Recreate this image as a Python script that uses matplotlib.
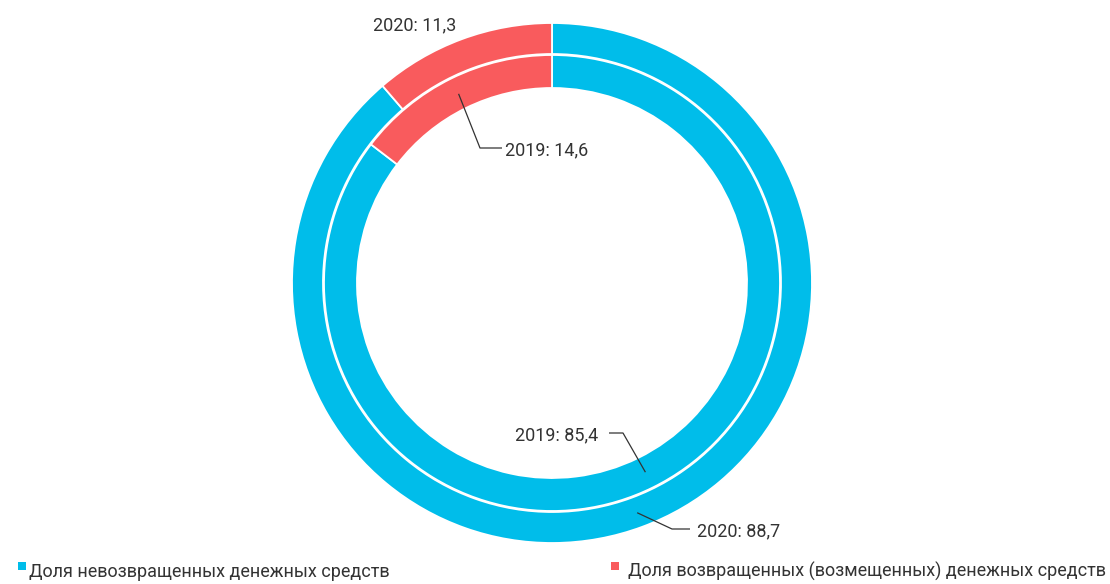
import numpy as np
import matplotlib.pyplot as plt

plt.rcParams['font.family'] = ['Roboto', 'DejaVu Sans']

years = ['2019', '2020']
unreturned = [85.4, 88.7]   # доля невозвращенных, %
returned = [14.6, 11.3]     # доля возвращенных (возмещенных), %
legend_labels = ['Доля невозвращенных денежных средств',
                 'Доля возвращенных (возмещенных) денежных средств']

BLUE = '#00BDEA'
RED = '#F95B5D'
TEXT = '#333333'
H = 584  # figure height in px, used to flip y

fig = plt.figure(figsize=(11.1, 5.84), dpi=100)
ax = fig.add_axes([0, 0, 1, 1])
cx, cy = 552, H - 283

wp = dict(edgecolor='white', linewidth=1.3)

# outer ring - 2020, inner ring - 2019
outer, _ = ax.pie([unreturned[1], returned[1]], radius=260, center=(cx, cy),
                  startangle=90, counterclock=False, colors=[BLUE, RED],
                  wedgeprops=dict(width=31, **wp))
inner, _ = ax.pie([unreturned[0], returned[0]], radius=228, center=(cx, cy),
                  startangle=90, counterclock=False, colors=[BLUE, RED],
                  wedgeprops=dict(width=33, **wp))

ax.set_xlim(0, 1110)
ax.set_ylim(0, H)
ax.axis('off')


def mid_point(w, r):
    a = np.deg2rad((w.theta1 + w.theta2) / 2)
    return cx + r * np.cos(a), cy + r * np.sin(a)


def leader(w, r, elbow, end):
    x0, y0 = mid_point(w, r)
    ax.plot([x0, elbow[0], end[0]], [y0, H - elbow[1], H - end[1]],
            color=TEXT, lw=0.9, solid_capstyle='butt')


fs = 13
fmt = lambda y, v: f'{y}: {v:.1f}'.replace('.', ',')

# 2020 returned - no leader
ax.text(415, H - 25, fmt(years[1], returned[1]), fontsize=fs, color=TEXT,
        ha='center', va='center')

# 2019 returned
leader(inner[1], 211, (480, 148), (502, 148))
ax.text(505, H - 150, fmt(years[0], returned[0]), fontsize=fs, color=TEXT,
        ha='left', va='center')

# 2019 unreturned
leader(inner[0], 211, (623, 433), (609, 433))
ax.text(598, H - 435, fmt(years[0], unreturned[0]), fontsize=fs, color=TEXT,
        ha='right', va='center')

# 2020 unreturned
leader(outer[0], 245, (672, 529), (690, 529))
ax.text(697, H - 531, fmt(years[1], unreturned[1]), fontsize=fs, color=TEXT,
        ha='left', va='center')

# legend
for (sx, tx), col, lab in zip([(22, 29), (615, 628)], [BLUE, RED], legend_labels):
    ax.scatter([sx], [H - 566], marker='s', s=30, color=col, linewidths=0)
    ax.text(tx, H - 577, lab, fontsize=fs, color=TEXT, ha='left', va='baseline')

fig.savefig('out.png', dpi=100)
